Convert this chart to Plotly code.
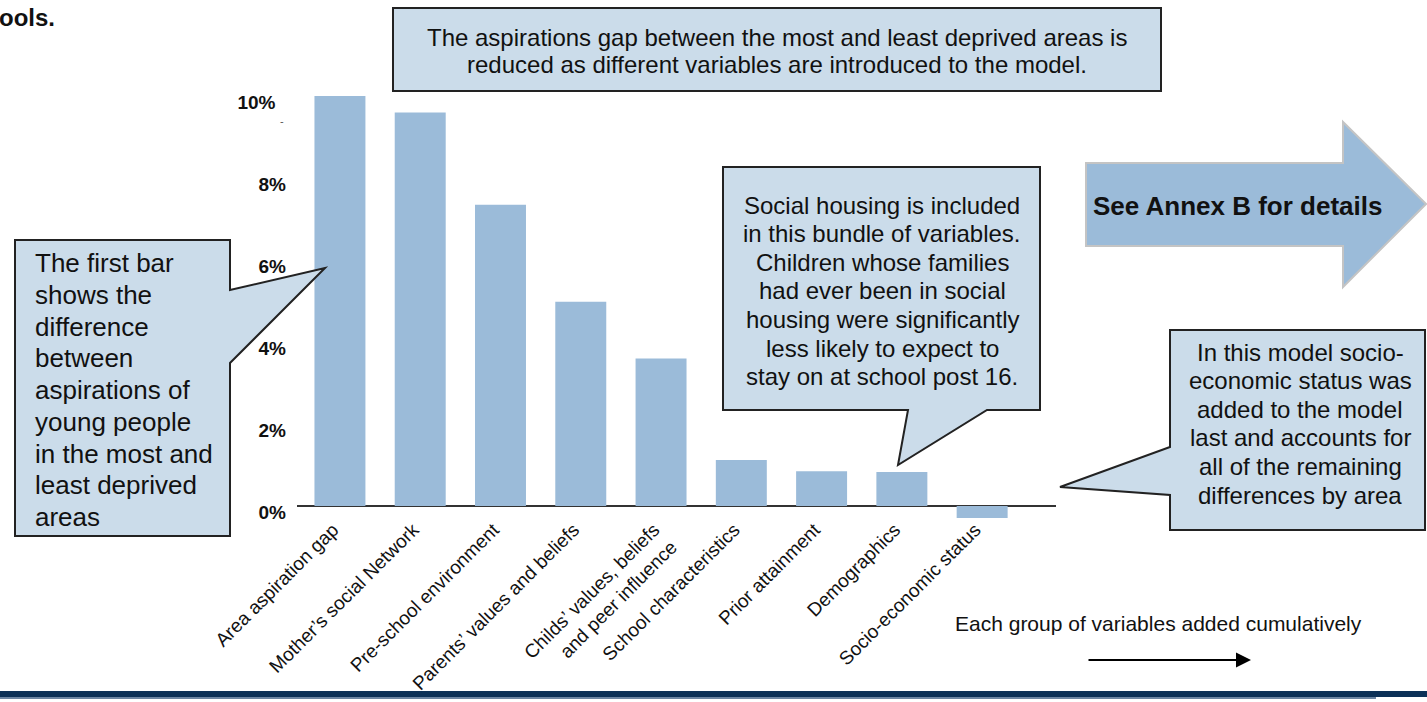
import plotly.graph_objects as go

categories = [
    "Area aspiration gap",
    "Mother\u2019s social Network",
    "Pre-school environment",
    "Parents\u2019 values and beliefs",
    "Childs\u2019 values, beliefs<br>and peer influence",
    "School characteristics",
    "Prior attainment",
    "Demographics",
    "Socio-economic status",
]
gap_values = [10.0, 9.6, 7.35, 4.98, 3.6, 1.12, 0.85, 0.83, -0.29]
tick_vals = [0, 2, 4, 6, 8, 10]
tick_text = ["0%", "2%", "4%", "6%", "8%", "10%\u00a0\u00a0"]

top_note = ["The aspirations gap between the most and least deprived areas is",
            "reduced as different variables are introduced to the model."]
left_note = ["The first bar", "shows the", "difference", "between", "aspirations of",
             "young people", "in the most and", "least deprived", "areas"]
mid_note = ["Social housing is included", "in this bundle of variables.",
            "Children whose families", "had ever been in social",
            "housing were significantly", "less likely to expect to",
            "stay on at school post 16."]
right_note = ["In this model socio-", "economic status was", "added to the model",
              "last and accounts for", "all of the remaining", "differences by area"]
annex_text = "See Annex B for details"
cumulative_text = "Each group of variables added cumulatively"

W, H = 1427, 702
L, R, T, B = 297, 1056, 90, 520
PW, PH = R - L, B - T
ZERO_PX = 506
PX_PER_UNIT = 41.0
y_top = (ZERO_PX - T) / PX_PER_UNIT
y_bot = (ZERO_PX - B) / PX_PER_UNIT

def fx(x):
    return (x - L) / PW

def fy(y):
    return (B - y) / PH

def path(points):
    return "M " + " L ".join(f"{fx(x):.5f},{fy(y):.5f}" for x, y in points) + " Z"

FONT = "Liberation Sans, Arial, Helvetica, sans-serif"
FILL = "#cbdcea"
BAR = "#9bbbd9"

fig = go.Figure()
fig.add_trace(go.Bar(x=categories, y=gap_values, marker=dict(color=BAR, line=dict(width=0)),
                     hoverinfo="skip"))

shapes = []
shapes.append(dict(type="path", xref="paper", yref="paper",
                   path=path([(393, 8), (1161, 8), (1161, 91), (393, 91)]),
                   fillcolor=FILL, line=dict(color="#222222", width=2)))
shapes.append(dict(type="path", xref="paper", yref="paper",
                   path=path([(15, 240), (230, 240), (230, 290), (325, 268), (230, 363),
                              (230, 536), (15, 536)]),
                   fillcolor=FILL, line=dict(color="#222222", width=2)))
shapes.append(dict(type="path", xref="paper", yref="paper",
                   path=path([(723, 167), (1040, 167), (1040, 410), (987, 410), (898, 465),
                              (908, 410), (723, 410)]),
                   fillcolor=FILL, line=dict(color="#222222", width=2)))
shapes.append(dict(type="path", xref="paper", yref="paper",
                   path=path([(1170, 330), (1425, 330), (1425, 530), (1170, 530), (1170, 495),
                              (1060, 487), (1170, 447)]),
                   fillcolor=FILL, line=dict(color="#222222", width=2)))
shapes.append(dict(type="path", xref="paper", yref="paper",
                   path=path([(1086, 163), (1343, 163), (1343, 122), (1426, 204), (1343, 287),
                              (1343, 246), (1086, 246)]),
                   fillcolor=BAR, line=dict(color="#c4c4c4", width=2)))
shapes.append(dict(type="rect", xref="paper", yref="paper",
                   x0=fx(0), x1=fx(W), y0=fy(697), y1=fy(691),
                   fillcolor="#0c3157", line=dict(width=0)))
shapes.append(dict(type="rect", xref="paper", yref="paper",
                   x0=fx(0), x1=fx(1376), y0=fy(699), y1=fy(697),
                   fillcolor="#6d86a3", line=dict(width=0)))

annotations = []

def add_lines(lines, x, y0, step, size, anchor="center", bold=False):
    for i, t in enumerate(lines):
        txt = f"<b>{t}</b>" if bold else t
        annotations.append(dict(xref="paper", yref="paper", x=fx(x), y=fy(y0 + i * step),
                                text=txt, showarrow=False, xanchor=anchor, yanchor="middle",
                                align=anchor if anchor != "center" else "center",
                                font=dict(family=FONT, size=size, color="#111111")))

add_lines(top_note, 777, 37, 27, 24)
add_lines(left_note, 33, 263, 31.75, 26, anchor="left")
add_lines(mid_note, 882, 205, 28.6, 24)
add_lines(right_note, 1300, 352, 28.6, 24)
add_lines([annex_text], 1237, 206, 0, 26, bold=True)
add_lines([cumulative_text], 1158, 623, 0, 21)

annotations.append(dict(xref="paper", yref="paper", x=fx(57), y=fy(17), text="<b>ools.</b>",
                        showarrow=False, xanchor="right", yanchor="middle",
                        font=dict(family=FONT, size=24, color="#111111")))
annotations.append(dict(xref="paper", yref="paper", x=fx(282), y=fy(121), text="-",
                        showarrow=False, xanchor="center", yanchor="middle",
                        font=dict(family=FONT, size=11, color="#555555")))
annotations.append(dict(xref="paper", yref="paper", x=fx(1251), y=fy(660), text="",
                        showarrow=True, ax=-164, ay=0, axref="pixel", ayref="pixel",
                        arrowhead=2, arrowsize=1.5, arrowwidth=2, arrowcolor="#000000"))

fig.update_layout(
    width=W, height=H, autosize=False,
    margin=dict(l=L, r=W - R, t=T, b=H - B, pad=0, autoexpand=False),
    paper_bgcolor="white", plot_bgcolor="white",
    showlegend=False, bargap=0.365,
    font=dict(family=FONT, color="#111111"),
    shapes=shapes, annotations=annotations,
    xaxis=dict(type="category", range=[-0.535, 8.92], showgrid=False, showline=False,
               zeroline=False, ticks="", tickangle=-45, ticklabelshift=-7,
               ticklabelstandoff=-6, automargin=False,
               tickfont=dict(family=FONT, size=19, color="#111111")),
    yaxis=dict(range=[y_bot, y_top], showgrid=False, showline=False, automargin=False,
               zeroline=True, zerolinecolor="#333333", zerolinewidth=1.5,
               tickvals=tick_vals, ticktext=tick_text, ticks="",
               ticklabelstandoff=10, ticklabelshift=6,
               tickfont=dict(family=FONT, size=19, color="#111111", weight="bold")),
)

fig.write_html("out.html", config={"displayModeBar": False},
               post_script="document.body.style.margin='0';document.body.style.overflow='hidden';")
